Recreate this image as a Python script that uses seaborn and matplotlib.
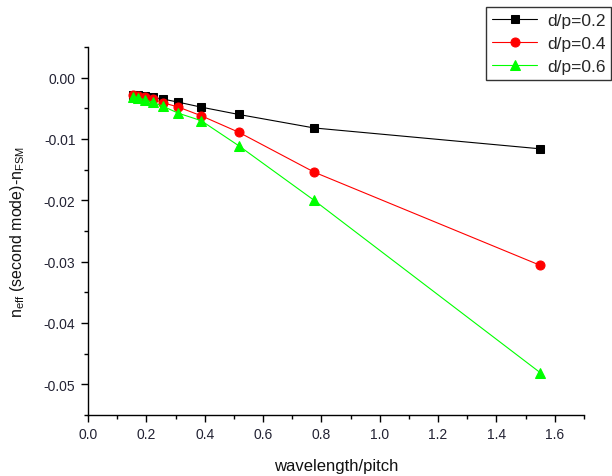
import matplotlib
matplotlib.use("Agg")
import matplotlib.pyplot as plt
import seaborn as sns
import pandas as pd
from matplotlib.ticker import MultipleLocator, FormatStrFormatter

# data
wl_pitch = [1.55, 0.775, 0.5167, 0.3875, 0.31, 0.2583, 0.2214, 0.1938, 0.1722, 0.155]
dp02 = [-0.0116, -0.0082, -0.0060, -0.0048, -0.0040, -0.0035, -0.0032, -0.0030, -0.0029, -0.0028]
dp04 = [-0.0306, -0.0154, -0.0089, -0.0062, -0.0048, -0.0041, -0.0035, -0.0032, -0.0030, -0.0029]
dp06 = [-0.0481, -0.0200, -0.0111, -0.0070, -0.0058, -0.0047, -0.0040, -0.0036, -0.0033, -0.0032]
series_labels = ["d/p=0.2", "d/p=0.4", "d/p=0.6"]

sns.set_style("white")
plt.rcParams["font.family"] = ["Liberation Sans", "DejaVu Sans"]
plt.rcParams["axes.unicode_minus"] = False
plt.rcParams["mathtext.default"] = "regular"

fig = plt.figure(figsize=(6.12, 4.77), dpi=100)
ax = fig.add_axes([88/612, 1-416/477, (584-88)/612, (416-48)/477])

colors = ["#000000", "#ff0000", "#00ff00"]
markers = ["s", "o", "^"]
msizes = [6, 6.5, 7.5]
for vals, lab, c, m, ms in zip([dp02, dp04, dp06], series_labels, colors, markers, msizes):
    df = pd.DataFrame({"x": wl_pitch, "y": vals})
    sns.lineplot(data=df, x="x", y="y", ax=ax, color=c, marker=m, markersize=ms,
                 markeredgecolor=c, linewidth=0.8, label=lab, sort=True)

ax.set_xlim(0, 1.7)
ax.set_ylim(-0.055, 0.005)
ax.xaxis.set_major_locator(MultipleLocator(0.2))
ax.xaxis.set_minor_locator(MultipleLocator(0.1))
ax.yaxis.set_major_locator(MultipleLocator(0.01))
ax.yaxis.set_minor_locator(MultipleLocator(0.005))
ax.xaxis.set_major_formatter(FormatStrFormatter("%.1f"))
ax.yaxis.set_major_formatter(FormatStrFormatter("%.2f"))
ax.set_yticks([0, -0.01, -0.02, -0.03, -0.04, -0.05])

for s in ["top", "right"]:
    ax.spines[s].set_visible(False)
for s in ["left", "bottom"]:
    ax.spines[s].set_color("black")
    ax.spines[s].set_linewidth(1.0)
ax.tick_params(which="major", direction="out", length=5, width=1, color="black",
               labelsize=10, labelcolor="#222233", bottom=True, left=True, pad=4)
ax.tick_params(which="minor", direction="out", length=3, width=1, color="black",
               bottom=True, left=True)

ax.set_xlabel("wavelength/pitch", fontsize=12, labelpad=12, color="#111111")
ax.set_ylabel(r"n$_{eff}$ (second mode)-n$_{FSM}$", fontsize=11.5, labelpad=12, color="#111111")

leg = ax.legend(loc="upper left", bbox_to_anchor=(486/612, 1-8/477),
                bbox_transform=fig.transFigure, frameon=True, fancybox=False,
                edgecolor="black", fontsize=12.5, handlelength=2.6,
                borderpad=0.35, labelspacing=0.45, handletextpad=0.55,
                borderaxespad=0)
leg.get_frame().set_linewidth(1.0)

fig.savefig("out.png", dpi=100)
